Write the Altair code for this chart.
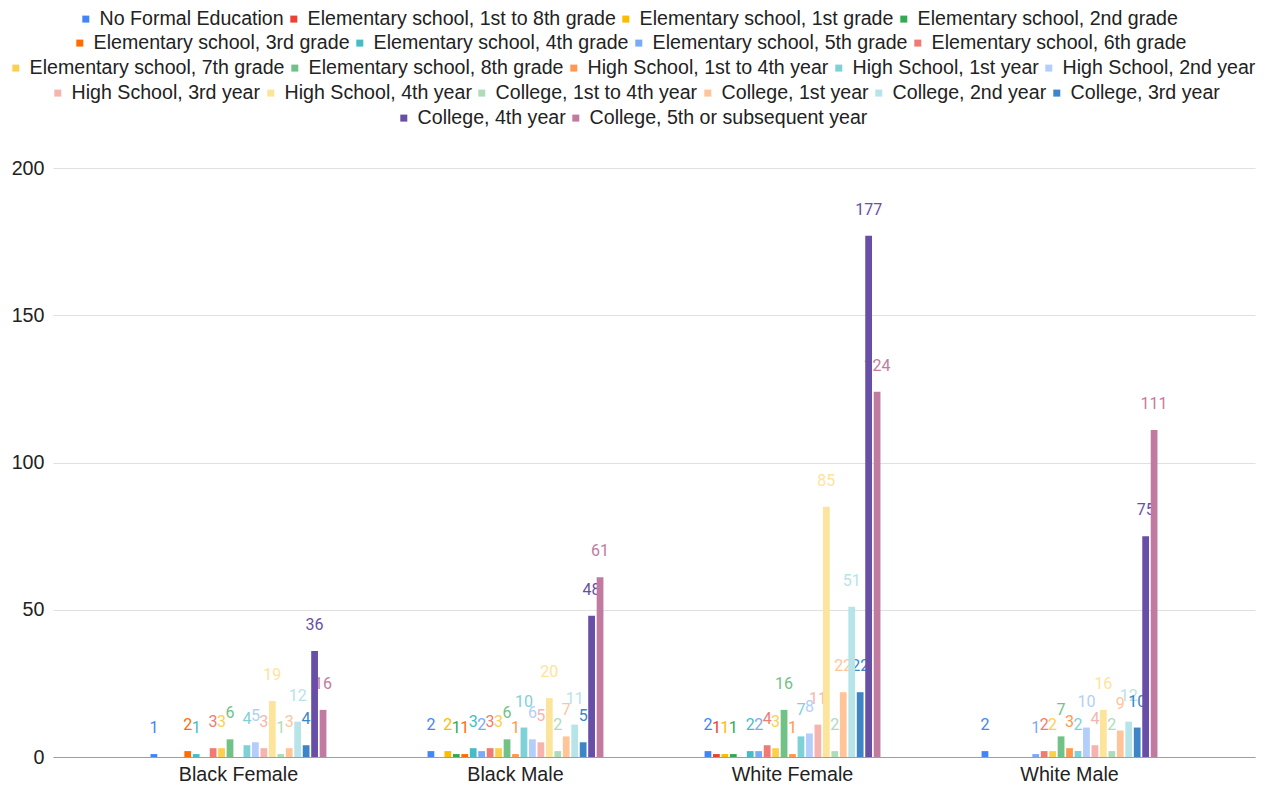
import altair as alt
import pandas as pd

categories = ["Black Female", "Black Male", "White Female", "White Male"]
series = [
    "No Formal Education",
    "Elementary school, 1st to 8th grade",
    "Elementary school, 1st grade",
    "Elementary school, 2nd grade",
    "Elementary school, 3rd grade",
    "Elementary school, 4th grade",
    "Elementary school, 5th grade",
    "Elementary school, 6th grade",
    "Elementary school, 7th grade",
    "Elementary school, 8th grade",
    "High School, 1st to 4th year",
    "High School, 1st year",
    "High School, 2nd year",
    "High School, 3rd year",
    "High School, 4th year",
    "College, 1st to 4th year",
    "College, 1st year",
    "College, 2nd year",
    "College, 3rd year",
    "College, 4th year",
    "College, 5th or subsequent year",
]
colors = [
    "#4285F4", "#EA4335", "#FBBC04", "#34A853", "#FF6D01", "#46BDC6", "#7BAAF7",
    "#F07B72", "#FCD04F", "#71C287", "#FF994D", "#7ED1D7", "#B3CEFB", "#F7B4AE",
    "#FDE49B", "#AEDCBA", "#FFC599", "#B6E4E8", "#3D85C6", "#674EA7", "#C27BA0",
]
black_female = [1, 0, 0, 0, 2, 1, 0, 3, 3, 6, 0, 4, 5, 3, 19, 1, 3, 12, 4, 36, 16]
black_male = [2, 0, 2, 1, 1, 3, 2, 3, 3, 6, 1, 10, 6, 5, 20, 2, 7, 11, 5, 48, 61]
white_female = [2, 1, 1, 1, 0, 2, 2, 4, 3, 16, 1, 7, 8, 11, 85, 2, 22, 51, 22, 177, 124]
white_male = [2, 0, 0, 0, 0, 0, 1, 2, 2, 7, 3, 2, 10, 4, 16, 2, 9, 12, 10, 75, 111]
legend_rows = [[0, 1, 2, 3], [4, 5, 6, 7], [8, 9, 10, 11, 12], [13, 14, 15, 16, 17, 18], [19, 20]]

rows = []
for cat, vals in zip(categories, [black_female, black_male, white_female, white_male]):
    for s, v in zip(series, vals):
        rows.append({"group": cat, "series": s, "value": v})
df = pd.DataFrame(rows)

FONT = "Liberation Sans"
FS = 19.7
LFS = 19.6

x_enc = alt.X(
    "group:N", sort=categories,
    scale=alt.Scale(paddingInner=0.365, paddingOuter=0.352),
    axis=alt.Axis(title=None, labelAngle=0, ticks=False, tickSize=0, grid=False,
                  domainColor="#9e9e9e", domainWidth=1, labelPadding=7,
                  labelFont=FONT, labelFontSize=FS, labelColor="#222222"),
)
xoff_enc = alt.XOffset("series:N", sort=series,
                       scale=alt.Scale(domain=series, paddingInner=0.2, paddingOuter=0))
y_enc = alt.Y(
    "value:Q", scale=alt.Scale(domain=[0, 200]),
    axis=alt.Axis(title=None, values=[0, 50, 100, 150, 200], domain=False, ticks=False,
                  tickSize=0, labelPadding=9, labelFont=FONT, labelFontSize=FS,
                  labelColor="#222222", gridColor="#e0e0e0"),
)
color_enc = alt.Color("series:N", scale=alt.Scale(domain=series, range=colors), legend=None)

bars = alt.Chart(df).mark_bar().encode(x=x_enc, xOffset=xoff_enc, y=y_enc, color=color_enc)
labels = alt.Chart(df).transform_filter("datum.value > 0").mark_text(
    font="Roboto", fontSize=16, baseline="alphabetic", dy=-21
).encode(x=x_enc, xOffset=xoff_enc, y=y_enc, color=color_enc, text="value:Q")

leg_x = [23, 17, -47, -5, 341]
leg_y = [-159, -135, -110, -85, -60]
legend_layers = []
for k, idx in enumerate(legend_rows):
    names = [series[i] for i in idx]
    cols = [colors[i] for i in idx]
    ldf = pd.DataFrame({"series": names})
    legend_layers.append(
        alt.Chart(ldf).mark_square(opacity=0, size=0).encode(
            color=alt.Color(
                "series:N", sort=names, title=None,
                scale=alt.Scale(domain=names, range=cols),
                legend=alt.Legend(
                    orient="none", legendX=leg_x[k], legendY=leg_y[k],
                    direction="horizontal", symbolType="square", symbolSize=49,
                    symbolStrokeWidth=0, symbolOpacity=1, labelFont=FONT,
                    labelFontSize=LFS, labelColor="#222222", labelOffset=4,
                    columnPadding=0, padding=0, labelLimit=800,
                ),
            )
        )
    )

chart = alt.layer(labels, bars, *legend_layers).resolve_scale(color="independent").properties(
    width=1202, height=589,
    padding={"left": 45, "top": 160, "right": 6, "bottom": 29},
    autosize=alt.AutoSizeParams(type="none"),
    background="white",
).configure_view(stroke=None)

chart.save("out.html", embed_options={"renderer": "svg", "actions": False})
